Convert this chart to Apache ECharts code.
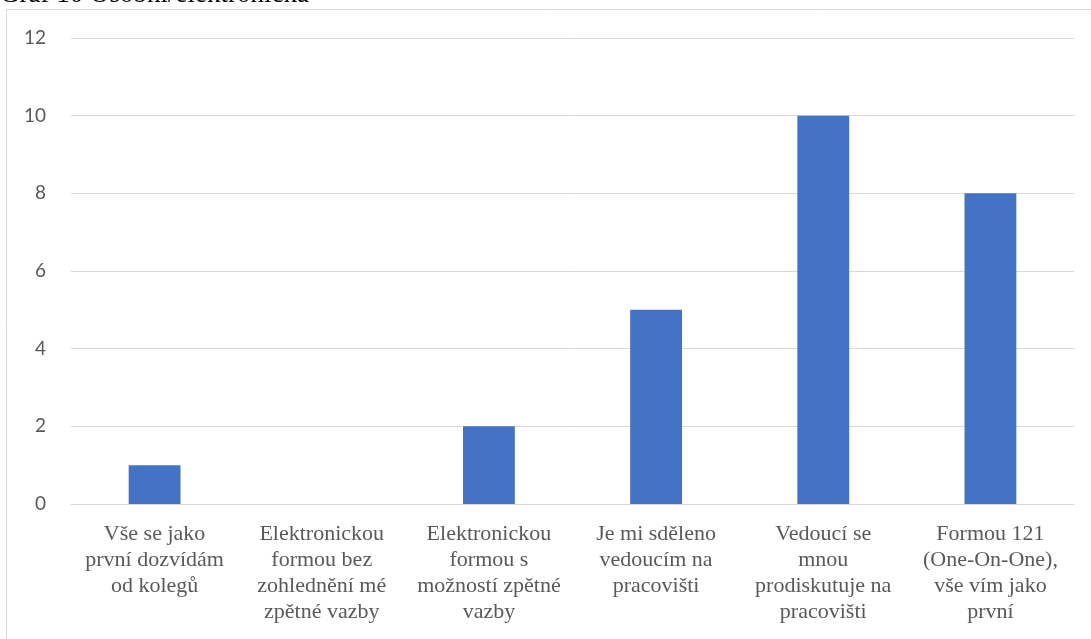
<!DOCTYPE html>
<html>

<head>
    <meta charset="utf-8" />
    <script src="https://cdn.jsdelivr.net/npm/echarts@6/dist/echarts.min.js"></script>
    <style>
        html, body { margin: 0; padding: 0; background: #fff; }
        #main { width: 1091px; height: 639px; }
    </style>
</head>

<body>
    <div id="main"></div>
    <script>
        var categories = [
            'Vše se jako\nprvní dozvídám\nod kolegů',
            'Elektronickou\nformou bez\nzohlednění mé\nzpětné vazby',
            'Elektronickou\nformou s\nmožností zpětné\nvazby',
            'Je mi sděleno\nvedoucím na\npracovišti',
            'Vedoucí se\nmnou\nprodiskutuje na\npracovišti',
            'Formou 121\n(One-On-One),\nvše vím jako\nprvní'
        ];
        var values = [1, 0, 2, 5, 10, 8];
        var titleText = 'Graf 10 Osobní/elektronická';

        var myChart = echarts.init(document.getElementById('main'));

        var option = {
            animation: false,
            graphic: [
                {
                    type: 'rect',
                    shape: { x: 6.5, y: 9.5, width: 1200, height: 800 },
                    style: { fill: 'none', stroke: '#d9d9d9', lineWidth: 1 },
                    silent: true
                },
                {
                    type: 'text',
                    left: 0,
                    top: -19,
                    style: {
                        text: titleText,
                        fontFamily: 'Liberation Serif',
                        fontSize: 27,
                        fill: '#000'
                    }
                }
            ],
            grid: {
                left: 71,
                right: 17,
                top: 38,
                bottom: 135
            },
            xAxis: {
                type: 'category',
                data: categories,
                axisTick: { show: false },
                axisLine: { lineStyle: { color: '#d9d9d9', width: 1 } },
                axisLabel: {
                    interval: 0,
                    margin: 17,
                    color: '#595959',
                    fontFamily: 'Liberation Serif',
                    fontSize: 22,
                    lineHeight: 26
                }
            },
            yAxis: {
                type: 'value',
                min: 0,
                max: 12,
                interval: 2,
                axisLine: { show: false },
                axisTick: { show: false },
                splitLine: { lineStyle: { color: '#d9d9d9', width: 1 } },
                axisLabel: {
                    margin: 25,
                    color: '#595959',
                    fontFamily: 'Lato',
                    fontSize: 19
                }
            },
            series: [
                {
                    type: 'bar',
                    data: values,
                    barCategoryGap: '69%',
                    itemStyle: { color: '#4472c4' }
                }
            ]
        };

        myChart.setOption(option);
    </script>
</body>

</html>
